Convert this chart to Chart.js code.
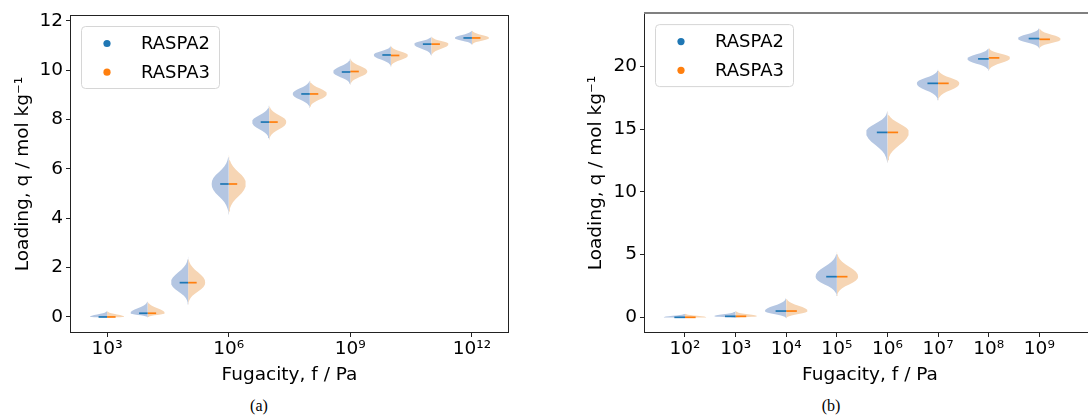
<!DOCTYPE html>
<html>
<head>
<meta charset="utf-8">
<script src="https://cdn.jsdelivr.net/npm/chart.js@4.4.1/dist/chart.umd.min.js"></script>
<style>
  html, body { margin: 0; padding: 0; background: #fff; overflow: hidden; }
  #wrap { position: relative; width: 1088px; height: 415px; overflow: hidden; }
  canvas { position: absolute; top: 0; }
  #chartA { left: 0; }
  #chartB { left: 545px; }
  .cap { position: absolute; top: 397px; line-height: 18px; font: 16px "Liberation Serif", serif; color: #000; transform: translateX(-50%); }
</style>
</head>
<body>
<div id="wrap">
  <canvas id="chartA" width="540" height="392"></canvas>
  <canvas id="chartB" width="560" height="392"></canvas>
  <div class="cap" style="left:259px">(a)</div>
  <div class="cap" style="left:831px">(b)</div>
</div>
<script>
const seriesNames = ['RASPA2', 'RASPA3'];

// panel (a): log10 of fugacity / Pa, loading in mol/kg
const logFugA = [3, 4, 5, 6, 7, 8, 9, 10, 11, 12];
const medianA2 = [0.00, 0.15, 1.39, 5.39, 7.90, 9.04, 9.93, 10.62, 11.06, 11.31];
const medianA3 = [0.00, 0.15, 1.39, 5.39, 7.90, 9.04, 9.95, 10.60, 11.06, 11.31];
const lowA = [-0.03, -0.02, 0.50, 4.15, 7.18, 8.47, 9.41, 10.15, 10.59, 11.03];
const highA = [0.25, 0.66, 2.44, 6.59, 8.60, 9.61, 10.50, 11.00, 11.38, 11.62];
const xTicksA = [3, 6, 9, 12];
const xTickTextA = ['10³', '10⁶', '10⁹', '10¹²'];
const yTicksA = [0, 2, 4, 6, 8, 10, 12];

// panel (b)
const logFugB = [2, 3, 4, 5, 6, 7, 8, 9];
const medianB2 = [0.00, 0.08, 0.50, 3.24, 14.74, 18.65, 20.60, 22.22];
const medianB3 = [0.00, 0.08, 0.50, 3.24, 14.74, 18.65, 20.68, 22.16];
const lowB = [-0.05, -0.05, -0.08, 1.70, 12.27, 17.30, 19.65, 21.43];
const highB = [0.30, 0.50, 1.56, 5.23, 16.46, 19.76, 21.50, 23.08];
const xTicksB = [2, 3, 4, 5, 6, 7, 8, 9];
const xTickTextB = ['10²', '10³', '10⁴', '10⁵', '10⁶', '10⁷', '10⁸', '10⁹'];
const yTicksB = [0, 5, 10, 15, 20];

// violin outline: relative half width vs distance from the median
const profileS = [0, 0.1, 0.2, 0.3, 0.4, 0.5, 0.6, 0.7, 0.8, 0.9, 1];
const profileW = [1, 0.98, 0.9, 0.76, 0.58, 0.4, 0.25, 0.14, 0.07, 0.03, 0.01];

const halfWidth = 0.42;   // in decades
const medianHalf = 0.21;
const bodyColors = ['#b4c6e2', '#f6d5b4'];
const lineColors = ['#1f77b4', '#ff7f0e'];

Chart.defaults.font.family = '"DejaVu Sans", sans-serif';
Chart.defaults.font.size = 18.5;
Chart.defaults.color = '#000';

function halfViolin(x, med, lo, hi, side, color) {
  const pts = [{x: x, y: lo}];
  for (let i = profileS.length - 1; i >= 0; i--) {
    pts.push({x: x + side * halfWidth * profileW[i], y: med - profileS[i] * (med - lo)});
  }
  for (let i = 1; i < profileS.length; i++) {
    pts.push({x: x + side * halfWidth * profileW[i], y: med + profileS[i] * (hi - med)});
  }
  pts.push({x: x, y: hi});
  return {data: pts, showLine: true, fill: 'shape', backgroundColor: color,
          borderWidth: 0, pointRadius: 0, pointHoverRadius: 0};
}

function medianLine(x, med, side, color) {
  return {data: [{x: x, y: med}, {x: x + side * medianHalf, y: med}], showLine: true, fill: false,
          borderColor: color, borderWidth: 1.7, pointRadius: 0, pointHoverRadius: 0};
}

function buildDatasets(xs, med2, med3, lo, hi) {
  const lines = [], bodies = [];
  xs.forEach((x, i) => {
    lines.push(medianLine(x, med2[i], -1, lineColors[0]));
    lines.push(medianLine(x, med3[i], 1, lineColors[1]));
    bodies.push(halfViolin(x, med2[i], lo[i], hi[i], -1, bodyColors[0]));
    bodies.push(halfViolin(x, med3[i], lo[i], hi[i], 1, bodyColors[1]));
  });
  return lines.concat(bodies); // first datasets are drawn on top
}

const framePlugin = {
  id: 'frame',
  afterDatasetsDraw(chart, args, opts) {
    const {ctx, chartArea: a} = chart;
    ctx.save();
    ctx.strokeStyle = '#222';
    ctx.lineWidth = 1;
    ctx.strokeRect(Math.round(a.left) - 0.5, Math.round(a.top) - 0.5,
                   Math.round(a.width) + 1, Math.round(a.height) + 1);
    if (opts.topColor) {
      ctx.strokeStyle = opts.topColor;
      ctx.lineWidth = 2;
      ctx.beginPath();
      ctx.moveTo(a.left - 1, Math.round(a.top) - 1);
      ctx.lineTo(a.right + 1, Math.round(a.top) - 1);
      ctx.stroke();
    }
    ctx.restore();
  }
};

const boxLegend = {
  id: 'boxLegend',
  afterDraw(chart, args, opts) {
    const {ctx, chartArea: a} = chart;
    ctx.save();
    ctx.beginPath();
    ctx.roundRect(a.left + 10.5, a.top + 10.5, 138, 62, 4);
    ctx.fillStyle = 'rgba(255,255,255,0.8)';
    ctx.fill();
    ctx.strokeStyle = '#d6d6d6';
    ctx.lineWidth = 1;
    ctx.stroke();
    ctx.font = '18px "DejaVu Sans", sans-serif';
    ctx.textBaseline = 'middle';
    seriesNames.forEach((name, i) => {
      const cy = a.top + 27.5 + i * 28.7;
      ctx.beginPath();
      ctx.arc(a.left + 36, cy, 3.6, 0, 2 * Math.PI);
      ctx.fillStyle = lineColors[i];
      ctx.fill();
      ctx.fillStyle = '#000';
      ctx.fillText(name, a.left + 70, cy + 1);
    });
    ctx.restore();
  }
};

function makeChart(id, cfg) {
  return new Chart(document.getElementById(id), {
    type: 'scatter',
    data: {datasets: buildDatasets(cfg.xs, cfg.med2, cfg.med3, cfg.lo, cfg.hi)},
    plugins: [framePlugin, boxLegend],
    options: {
      responsive: false,
      animation: false,
      devicePixelRatio: 1,
      events: [],
      layout: {padding: {left: 0, right: cfg.padRight, top: cfg.padTop, bottom: 0}},
      plugins: {
        legend: {display: false},
        tooltip: {enabled: false},
        frame: {topColor: cfg.topColor}
      },
      scales: {
        x: {
          type: 'linear',
          min: cfg.xMin, max: cfg.xMax,
          afterBuildTicks: s => { s.ticks = cfg.xTicks.map(v => ({value: v})); },
          afterFit: s => { s.height = 60; },
          ticks: {callback: (v, i) => cfg.xTickText[i], padding: 1, maxRotation: 0, autoSkip: false},
          grid: {drawOnChartArea: false, drawTicks: true, tickLength: 5, color: '#222'},
          border: {display: false},
          title: {display: true, text: 'Fugacity, f / Pa', padding: {top: 0, bottom: 6}}
        },
        y: {
          type: 'linear',
          min: cfg.yMin, max: cfg.yMax,
          afterBuildTicks: s => { s.ticks = cfg.yTicks.map(v => ({value: v})); },
          afterFit: s => { s.width = cfg.yWidth; },
          ticks: {padding: 3},
          grid: {drawOnChartArea: false, drawTicks: true, tickLength: 5, color: '#222'},
          border: {display: false},
          title: {display: true, text: 'Loading, q / mol kg⁻¹', padding: {top: cfg.yTitlePad, bottom: 0}}
        }
      }
    }
  });
}

makeChart('chartA', {
  xs: logFugA, med2: medianA2, med3: medianA3, lo: lowA, hi: highA,
  xMin: 2.11, xMax: 12.89, yMin: -0.61, yMax: 12.2,
  xTicks: xTicksA, xTickText: xTickTextA, yTicks: yTicksA,
  padTop: 16, padRight: 32, yWidth: 71, yTitlePad: 12, topColor: null
});

makeChart('chartB', {
  xs: logFugB, med2: medianB2, med3: medianB3, lo: lowB, hi: highB,
  xMin: 1.21, xMax: 10.1, yMin: -1.17, yMax: 24.17,
  xTicks: xTicksB, xTickText: xTickTextB, yTicks: yTicksB,
  padTop: 14, padRight: 10, yWidth: 100, yTitlePad: 40.5, topColor: '#808080'
});
</script>
</body>
</html>
